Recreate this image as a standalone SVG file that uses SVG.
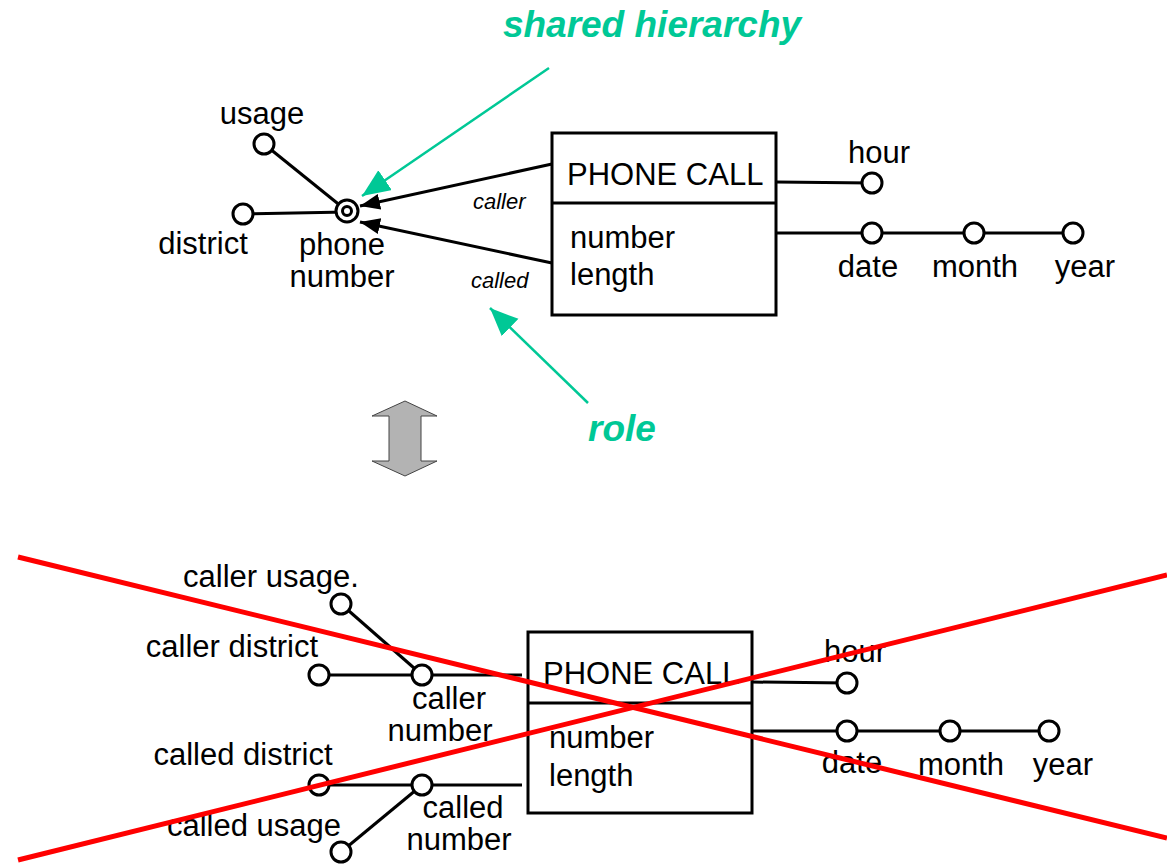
<svg xmlns="http://www.w3.org/2000/svg" width="1167" height="866" viewBox="0 0 1167 866">
<style>
.t{font-family:"Liberation Sans",Arial,sans-serif;font-size:31px;fill:#000}
.s{font-family:"Liberation Sans",Arial,sans-serif;font-size:22px;font-style:italic;fill:#000}
.g{font-family:"Liberation Sans",Arial,sans-serif;font-size:37px;font-style:italic;font-weight:bold;fill:#00C896}
.ln{stroke:#000;stroke-width:3;fill:none}
.c{fill:#fff;stroke:#000;stroke-width:3}
.box{fill:#fff;stroke:#000;stroke-width:3}
.gl{stroke:#00C896;stroke-width:2.5;fill:none}
.red{stroke:#ff0000;stroke-width:5;fill:none}
.mid{text-anchor:middle}
</style>
<defs>
<marker id="ag" markerUnits="userSpaceOnUse" markerWidth="30" markerHeight="26" refX="28" refY="12" orient="auto"><path d="M0,0 L28,12 L0,24 z" fill="#00C896"/></marker>
<marker id="ab" markerUnits="userSpaceOnUse" markerWidth="22" markerHeight="18" refX="20" refY="8" orient="auto"><path d="M0,0 L20,8 L0,16 z" fill="#000"/></marker>
</defs>

<g id="connectors">
<line class="ln" x1="264" y1="144" x2="347" y2="211"/>
<line class="ln" x1="243" y1="214" x2="347" y2="212"/>
<line class="ln" x1="552" y1="164" x2="360" y2="206" marker-end="url(#ab)"/>
<line class="ln" x1="552" y1="263" x2="360" y2="222" marker-end="url(#ab)"/>
<line class="ln" x1="776" y1="182" x2="872" y2="183"/>
<line class="ln" x1="776" y1="233" x2="1073" y2="233"/>
<line class="gl" x1="549" y1="68" x2="362" y2="196" marker-end="url(#ag)"/>
<line class="gl" x1="588" y1="403" x2="490" y2="308" marker-end="url(#ag)"/>

<line class="ln" x1="341" y1="604" x2="422" y2="675"/>
<line class="ln" x1="319" y1="675" x2="522" y2="675"/>
<line class="ln" x1="319" y1="785" x2="522" y2="785"/>
<line class="ln" x1="341" y1="852" x2="422" y2="785"/>
<line class="ln" x1="752" y1="682" x2="847" y2="683"/>
<line class="ln" x1="752" y1="731" x2="1049" y2="731"/>
</g>

<g id="title-shared"><text class="g mid" x="652" y="37">shared hierarchy</text></g>
<g id="title-role"><text class="g mid" x="622" y="441">role</text></g>

<g id="usage"><circle class="c" cx="264" cy="144" r="10"/><text class="t mid" x="262" y="124">usage</text></g>
<g id="district"><circle class="c" cx="243" cy="214" r="10"/><text class="t mid" x="203" y="254">district</text></g>
<g id="phone-number"><circle class="c" cx="347" cy="211" r="11"/><circle cx="347" cy="211" r="4.5" fill="#fff" stroke="#000" stroke-width="3"/><text class="t mid" x="342" y="255">phone</text><text class="t mid" x="342" y="287">number</text></g>
<g id="role-labels"><text class="s" x="473" y="209">caller</text><text class="s" x="471" y="288">called</text></g>

<g id="phone-call-top">
<rect class="box" x="552" y="133" width="224" height="182"/>
<line class="ln" x1="552" y1="203" x2="776" y2="203"/>
<text class="t" x="567" y="185">PHONE CALL</text>
<text class="t" x="570" y="248">number</text>
<text class="t" x="570" y="285">length</text>
</g>
<g id="hour-top"><circle class="c" cx="872" cy="183" r="10"/><text class="t mid" x="879" y="163">hour</text></g>
<g id="date-top"><circle class="c" cx="872" cy="233" r="10"/><text class="t mid" x="868" y="277">date</text></g>
<g id="month-top"><circle class="c" cx="974" cy="233" r="10"/><text class="t mid" x="975" y="277">month</text></g>
<g id="year-top"><circle class="c" cx="1073" cy="233" r="10"/><text class="t mid" x="1085" y="277">year</text></g>

<g id="double-arrow"><path d="M405,401 L437,416 L421,416 L421,461 L437,461 L405,476 L372,461 L389,461 L389,416 L372,416 Z" fill="#b3b3b3" stroke="#444" stroke-width="1"/></g>

<g id="caller-usage"><circle class="c" cx="341" cy="604" r="10"/><text class="t mid" x="271" y="587">caller usage.</text></g>
<g id="caller-district"><circle class="c" cx="319" cy="675" r="10"/><text class="t mid" x="232" y="657">caller district</text></g>
<g id="caller-number"><circle class="c" cx="422" cy="675" r="10"/><text class="t mid" x="449" y="709">caller</text><text class="t mid" x="440" y="741">number</text></g>
<g id="called-district"><circle class="c" cx="319" cy="785" r="10"/><text class="t mid" x="243" y="765">called district</text></g>
<g id="called-number"><circle class="c" cx="422" cy="785" r="10"/><text class="t mid" x="463" y="818">called</text><text class="t mid" x="459" y="850">number</text></g>
<g id="called-usage"><circle class="c" cx="341" cy="852" r="10"/><text class="t mid" x="254" y="836">called usage</text></g>

<g id="phone-call-bottom">
<rect class="box" x="528" y="632" width="224" height="181"/>
<line class="ln" x1="528" y1="703" x2="752" y2="703"/>
<text class="t" x="543" y="684">PHONE CALL</text>
<text class="t" x="549" y="748">number</text>
<text class="t" x="549" y="786">length</text>
</g>
<g id="hour-bottom"><circle class="c" cx="847" cy="683" r="10"/><text class="t mid" x="855" y="662">hour</text></g>
<g id="date-bottom"><circle class="c" cx="847" cy="731" r="10"/><text class="t mid" x="852" y="773">date</text></g>
<g id="month-bottom"><circle class="c" cx="950" cy="731" r="10"/><text class="t mid" x="961" y="775">month</text></g>
<g id="year-bottom"><circle class="c" cx="1049" cy="731" r="10"/><text class="t mid" x="1063" y="775">year</text></g>

<g id="cross-out">
<line class="red" x1="18" y1="557" x2="1167" y2="838"/>
<line class="red" x1="18" y1="860" x2="1167" y2="575"/>
</g>
</svg>
